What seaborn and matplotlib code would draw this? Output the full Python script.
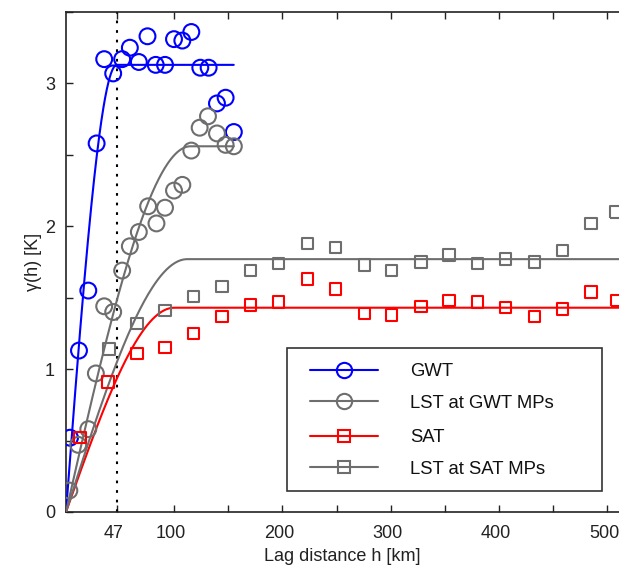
import numpy as np
import pandas as pd
import matplotlib
matplotlib.use("Agg")
import matplotlib.pyplot as plt
from matplotlib.lines import Line2D
from matplotlib.patches import Rectangle
import matplotlib.transforms as mtransforms
import seaborn as sns

# ---- data ----
gwt_h = [3.7, 12.0, 20.6, 28.3, 35.3, 43.6, 51.9, 59.0, 67.3, 75.3, 82.9, 91.5,
         99.8, 107.5, 115.8, 124.1, 131.8, 139.5, 147.5, 155.1]
gwt_g = [0.52, 1.13, 1.55, 2.58, 3.17, 3.07, 3.17, 3.25, 3.15, 3.33, 3.13, 3.13,
         3.31, 3.30, 3.36, 3.11, 3.11, 2.86, 2.90, 2.66]

lstg_h = [3.1, 11.3, 20.6, 27.6, 35.3, 43.6, 51.9, 59.0, 67.3, 75.9, 83.6, 91.5,
          99.8, 107.5, 115.8, 123.5, 131.2, 139.5, 147.5, 155.1]
lstg_g = [0.15, 0.47, 0.58, 0.97, 1.44, 1.40, 1.69, 1.86, 1.96, 2.14, 2.02, 2.13,
          2.25, 2.29, 2.53, 2.69, 2.77, 2.65, 2.57, 2.56]

sat_h = [12.9, 39.0, 65.7, 91.5, 118.0, 144.0, 170.5, 196.3, 223.0, 248.8, 275.6,
         301.0, 328.0, 353.9, 380.4, 406.1, 432.9, 458.7, 485.0, 509.0]
sat_g = [0.52, 0.91, 1.11, 1.15, 1.25, 1.37, 1.45, 1.47, 1.63, 1.56, 1.39,
         1.38, 1.44, 1.48, 1.47, 1.43, 1.37, 1.42, 1.54, 1.48]

lsts_h = [39.9, 65.7, 91.5, 118.0, 144.0, 170.5, 196.3, 223.3, 248.8, 275.6,
          301.0, 328.0, 354.0, 380.4, 406.0, 433.0, 458.7, 485.0, 508.0]
lsts_g = [1.14, 1.32, 1.41, 1.51, 1.58, 1.69, 1.74, 1.88, 1.85, 1.73,
          1.69, 1.75, 1.80, 1.74, 1.77, 1.75, 1.83, 2.02, 2.10]

labels = ["GWT", "LST at GWT MPs", "SAT", "LST at SAT MPs"]
# spherical model parameters: sill, range, max lag of curve
model_sill = [3.13, 2.56, 1.43, 1.77]
model_range = [47, 115, 100, 112]
model_hmax = [155, 155, 515, 515]

colors = ["#0000ff", "#6e6e6e", "#ff0000", "#6e6e6e"]
markers = ["o", "o", "s", "s"]

xticks = [47, 100, 150, 200, 250, 300, 350, 400, 450, 500]
xticklabels = ["47", "100", "", "200", "", "300", "", "400", "", "500"]
yticks = [0, 0.5, 1, 1.5, 2, 2.5, 3, 3.5]
yticklabels = ["0", "", "1", "", "2", "", "3", ""]

def spherical(h, c, a):
    h = np.asarray(h, dtype=float)
    r = np.clip(h / a, 0, 1)
    return c * (1.5 * r - 0.5 * r ** 3)

sns.set_style("ticks")
plt.rcParams['font.family'] = ['Liberation Sans', 'DejaVu Sans']

W, H = 619, 572
fig = plt.figure(figsize=(W / 100, H / 100), dpi=100)
ax = fig.add_axes([66 / W, 60 / H, 1 - 66 / W, 500 / H])

series_h = [gwt_h, lstg_h, sat_h, lsts_h]
series_g = [gwt_g, lstg_g, sat_g, lsts_g]

ax.axvline(47, color="black", linestyle=(0, (1.3, 3.3)), lw=1.5, zorder=1)

for i in range(4):
    hh = np.linspace(0, model_hmax[i], 400)
    mdf = pd.DataFrame({"h": hh, "g": spherical(hh, model_sill[i], model_range[i])})
    sns.lineplot(data=mdf, x="h", y="g", color=colors[i], lw=1.5, ax=ax, zorder=3)
    pdf = pd.DataFrame({"h": series_h[i], "g": series_g[i]})
    s = 130 if markers[i] == "o" else 68
    sns.scatterplot(data=pdf, x="h", y="g", marker=markers[i], s=s,
                    facecolors="none", edgecolor=colors[i], linewidth=1.5,
                    ax=ax, zorder=4)

ax.set_xlim(0, 511)
ax.set_ylim(0, 3.5)
ax.set_xticks(xticks)
ax.set_xticklabels(xticklabels)
ax.set_yticks(yticks)
ax.set_yticklabels(yticklabels)
ax.tick_params(direction="in", length=5, width=1, top=True, right=False,
               labelsize=13, colors="#222222", pad=8)
ax.tick_params(axis="x", pad=9)
shift = mtransforms.ScaledTranslation(-3 / 100, 0, fig.dpi_scale_trans)
for lbl in ax.get_xticklabels():
    lbl.set_transform(lbl.get_transform() + shift)
for sp in ["left", "bottom", "top"]:
    ax.spines[sp].set_color("#222222")
    ax.spines[sp].set_linewidth(1.2)
ax.spines["right"].set_visible(False)

ax.set_xlabel("Lag distance h [km]", fontsize=13, color="#222222", labelpad=5)
ax.set_ylabel("γ(h) [K]", fontsize=13, color="#222222", labelpad=2)

# legend: frame drawn as a rectangle, entries in two groups
box = Rectangle((287 / W, (H - 491) / H), (602 - 287) / W, (491 - 348) / H,
                transform=fig.transFigure, facecolor="white",
                edgecolor="#333333", lw=1.2, zorder=5)
fig.patches.append(box)

handles = []
for i in range(4):
    handles.append(Line2D([0], [0], color=colors[i], lw=1.5, marker=markers[i],
                          markersize=11 if markers[i] == "o" else 8.5,
                          markerfacecolor="none", markeredgecolor=colors[i],
                          markeredgewidth=1.5))

common = dict(fontsize=13.3, frameon=False, handlelength=3.7, handletextpad=1.7,
              borderpad=0, labelspacing=0.8, borderaxespad=0,
              loc="upper left", bbox_transform=fig.transFigure)
leg1 = fig.legend(handles[:2], labels[:2],
                  bbox_to_anchor=(310 / W, 1 - 363 / H), **common)
leg2 = fig.legend(handles[2:], labels[2:],
                  bbox_to_anchor=(310 / W, 1 - 429 / H), **common)
for lg in (leg1, leg2):
    lg.set_zorder(6)
    for t in lg.get_texts():
        t.set_color("#111111")

fig.savefig("out.png", dpi=100)
